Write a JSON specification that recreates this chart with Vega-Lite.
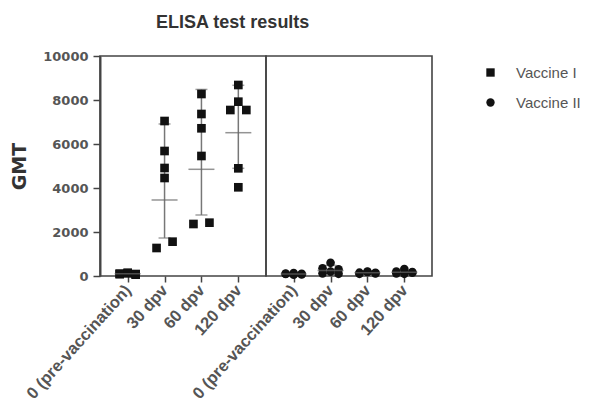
{
  "$schema": "https://vega.github.io/schema/vega-lite/v6.json",
  "padding": {"left": 10, "top": 14, "right": 0, "bottom": 0},
  "config": {
    "font": "Liberation Sans",
    "view": {"stroke": "#444", "strokeWidth": 1.6},
    "axis": {"labelFont": "Liberation Sans", "labelFontWeight": "bold", "labelColor": "#555", "domainColor": "#444", "tickColor": "#444", "domainWidth": 2, "tickWidth": 1.5, "grid": false}
  },
  "title": {"text": "ELISA test results", "fontSize": 18, "fontWeight": "bold", "color": "#333", "anchor": "start", "frame": "group", "dx": 56, "offset": 18},
  "data": {"values": [
    {"vaccine": "Vaccine I", "time": "0 (pre-vaccination)", "kind": "pt", "col": "L", "gmt": 80},
    {"vaccine": "Vaccine I", "time": "0 (pre-vaccination)", "kind": "pt", "col": "C", "gmt": 120},
    {"vaccine": "Vaccine I", "time": "0 (pre-vaccination)", "kind": "pt", "col": "R", "gmt": 60},
    {"vaccine": "Vaccine I", "time": "0 (pre-vaccination)", "kind": "pt", "col": "L", "gmt": 110},
    {"vaccine": "Vaccine I", "time": "0 (pre-vaccination)", "kind": "pt", "col": "C", "gmt": 150},
    {"vaccine": "Vaccine I", "time": "0 (pre-vaccination)", "kind": "pt", "col": "R", "gmt": 90},
    {"vaccine": "Vaccine I", "time": "30 dpv", "kind": "pt", "col": "C", "gmt": 7045},
    {"vaccine": "Vaccine I", "time": "30 dpv", "kind": "pt", "col": "C", "gmt": 5682},
    {"vaccine": "Vaccine I", "time": "30 dpv", "kind": "pt", "col": "C", "gmt": 4909},
    {"vaccine": "Vaccine I", "time": "30 dpv", "kind": "pt", "col": "C", "gmt": 4455},
    {"vaccine": "Vaccine I", "time": "30 dpv", "kind": "pt", "col": "L", "gmt": 1273},
    {"vaccine": "Vaccine I", "time": "30 dpv", "kind": "pt", "col": "R", "gmt": 1560},
    {"vaccine": "Vaccine I", "time": "60 dpv", "kind": "pt", "col": "C", "gmt": 8273},
    {"vaccine": "Vaccine I", "time": "60 dpv", "kind": "pt", "col": "C", "gmt": 7364},
    {"vaccine": "Vaccine I", "time": "60 dpv", "kind": "pt", "col": "C", "gmt": 6714},
    {"vaccine": "Vaccine I", "time": "60 dpv", "kind": "pt", "col": "C", "gmt": 5455},
    {"vaccine": "Vaccine I", "time": "60 dpv", "kind": "pt", "col": "L", "gmt": 2364},
    {"vaccine": "Vaccine I", "time": "60 dpv", "kind": "pt", "col": "R", "gmt": 2423},
    {"vaccine": "Vaccine I", "time": "120 dpv", "kind": "pt", "col": "C", "gmt": 8682},
    {"vaccine": "Vaccine I", "time": "120 dpv", "kind": "pt", "col": "C", "gmt": 7923},
    {"vaccine": "Vaccine I", "time": "120 dpv", "kind": "pt", "col": "L", "gmt": 7545},
    {"vaccine": "Vaccine I", "time": "120 dpv", "kind": "pt", "col": "R", "gmt": 7545},
    {"vaccine": "Vaccine I", "time": "120 dpv", "kind": "pt", "col": "C", "gmt": 4895},
    {"vaccine": "Vaccine I", "time": "120 dpv", "kind": "pt", "col": "C", "gmt": 4032},
    {"vaccine": "Vaccine II", "time": "0 (pre-vaccination)", "kind": "pt", "col": "L", "gmt": 90},
    {"vaccine": "Vaccine II", "time": "0 (pre-vaccination)", "kind": "pt", "col": "C", "gmt": 130},
    {"vaccine": "Vaccine II", "time": "0 (pre-vaccination)", "kind": "pt", "col": "R", "gmt": 70},
    {"vaccine": "Vaccine II", "time": "0 (pre-vaccination)", "kind": "pt", "col": "L", "gmt": 110},
    {"vaccine": "Vaccine II", "time": "0 (pre-vaccination)", "kind": "pt", "col": "C", "gmt": 60},
    {"vaccine": "Vaccine II", "time": "0 (pre-vaccination)", "kind": "pt", "col": "R", "gmt": 100},
    {"vaccine": "Vaccine II", "time": "30 dpv", "kind": "pt", "col": "C", "gmt": 600},
    {"vaccine": "Vaccine II", "time": "30 dpv", "kind": "pt", "col": "L", "gmt": 350},
    {"vaccine": "Vaccine II", "time": "30 dpv", "kind": "pt", "col": "R", "gmt": 300},
    {"vaccine": "Vaccine II", "time": "30 dpv", "kind": "pt", "col": "C", "gmt": 200},
    {"vaccine": "Vaccine II", "time": "30 dpv", "kind": "pt", "col": "L", "gmt": 120},
    {"vaccine": "Vaccine II", "time": "30 dpv", "kind": "pt", "col": "R", "gmt": 100},
    {"vaccine": "Vaccine II", "time": "60 dpv", "kind": "pt", "col": "L", "gmt": 150},
    {"vaccine": "Vaccine II", "time": "60 dpv", "kind": "pt", "col": "C", "gmt": 200},
    {"vaccine": "Vaccine II", "time": "60 dpv", "kind": "pt", "col": "R", "gmt": 120},
    {"vaccine": "Vaccine II", "time": "60 dpv", "kind": "pt", "col": "L", "gmt": 100},
    {"vaccine": "Vaccine II", "time": "60 dpv", "kind": "pt", "col": "C", "gmt": 180},
    {"vaccine": "Vaccine II", "time": "60 dpv", "kind": "pt", "col": "R", "gmt": 140},
    {"vaccine": "Vaccine II", "time": "120 dpv", "kind": "pt", "col": "C", "gmt": 320},
    {"vaccine": "Vaccine II", "time": "120 dpv", "kind": "pt", "col": "L", "gmt": 200},
    {"vaccine": "Vaccine II", "time": "120 dpv", "kind": "pt", "col": "R", "gmt": 180},
    {"vaccine": "Vaccine II", "time": "120 dpv", "kind": "pt", "col": "L", "gmt": 120},
    {"vaccine": "Vaccine II", "time": "120 dpv", "kind": "pt", "col": "C", "gmt": 100},
    {"vaccine": "Vaccine II", "time": "120 dpv", "kind": "pt", "col": "R", "gmt": 150},
    {"vaccine": "Vaccine I", "time": "0 (pre-vaccination)", "kind": "sum", "mean": 100, "lo": 70, "hi": 140},
    {"vaccine": "Vaccine I", "time": "30 dpv", "kind": "sum", "mean": 3455, "lo": 1727, "hi": 6910},
    {"vaccine": "Vaccine I", "time": "60 dpv", "kind": "sum", "mean": 4850, "lo": 2773, "hi": 8480},
    {"vaccine": "Vaccine I", "time": "120 dpv", "kind": "sum", "mean": 6514, "lo": 4895, "hi": 8668},
    {"vaccine": "Vaccine II", "time": "0 (pre-vaccination)", "kind": "sum", "mean": 90, "lo": 70, "hi": 120},
    {"vaccine": "Vaccine II", "time": "30 dpv", "kind": "sum", "mean": 250, "lo": 130, "hi": 480},
    {"vaccine": "Vaccine II", "time": "60 dpv", "kind": "sum", "mean": 150, "lo": 110, "hi": 200},
    {"vaccine": "Vaccine II", "time": "120 dpv", "kind": "sum", "mean": 170, "lo": 110, "hi": 260}
  ]},
  "facet": {"column": {"field": "vaccine", "type": "nominal", "title": null, "header": {"labels": false, "title": null}, "sort": ["Vaccine I", "Vaccine II"]}},
  "spacing": 0,
  "bounds": "flush",
  "spec": {
    "width": 166,
    "height": 220,
    "encoding": {
      "x": {"field": "time", "type": "nominal", "sort": ["0 (pre-vaccination)", "30 dpv", "60 dpv", "120 dpv"],
        "scale": {"type": "point", "padding": 0.75},
        "axis": {"title": null, "labelAngle": -48, "labelFontSize": 16.5, "tickSize": 6, "domain": false, "labelPadding": 5}}
    },
    "layer": [
      {
        "transform": [{"filter": "datum.kind === 'sum'"}],
        "mark": {"type": "rule", "color": "#777", "strokeWidth": 1.5},
        "encoding": {
          "y": {"field": "lo", "type": "quantitative", "scale": {"domain": [0, 10000]}, "axis": {"values": [0, 2000, 4000, 6000, 8000, 10000], "format": "d", "title": "GMT", "titleFont": "DejaVu Sans", "titleFontSize": 19, "titleFontWeight": "bold", "titleColor": "#333", "labelFont": "DejaVu Sans", "labelFontSize": 13, "tickSize": 7, "labelPadding": 5, "titlePadding": 13}},
          "y2": {"field": "hi"}
        }
      },
      {
        "transform": [{"filter": "datum.kind === 'sum'"}],
        "mark": {"type": "tick", "color": "#777", "thickness": 1.5, "size": 12},
        "encoding": {"y": {"field": "lo", "type": "quantitative"}}
      },
      {
        "transform": [{"filter": "datum.kind === 'sum'"}],
        "mark": {"type": "tick", "color": "#777", "thickness": 1.5, "size": 12},
        "encoding": {"y": {"field": "hi", "type": "quantitative"}}
      },
      {
        "transform": [{"filter": "datum.kind === 'pt'"}],
        "mark": {"type": "point", "filled": true, "opacity": 1, "color": "#111", "size": 75},
        "encoding": {
          "y": {"field": "gmt", "type": "quantitative"},
          "xOffset": {"field": "col", "type": "nominal", "scale": {"type": "point", "domain": ["L", "C", "R"], "range": [-8, 8], "padding": 0}},
          "shape": {"field": "vaccine", "type": "nominal", "scale": {"domain": ["Vaccine I", "Vaccine II"], "range": ["square", "circle"]},
            "legend": {"title": null, "labelFontSize": 15, "labelColor": "#555", "symbolSize": 70, "symbolFillColor": "#111", "symbolStrokeColor": "#111", "rowPadding": 14, "offset": 41, "labelOffset": 18, "padding": 9}}
        }
      },
      {
        "transform": [{"filter": "datum.kind === 'sum'"}],
        "mark": {"type": "tick", "color": "#666", "thickness": 1.5, "size": 26},
        "encoding": {"y": {"field": "mean", "type": "quantitative"}}
      }
    ]
  }
}
